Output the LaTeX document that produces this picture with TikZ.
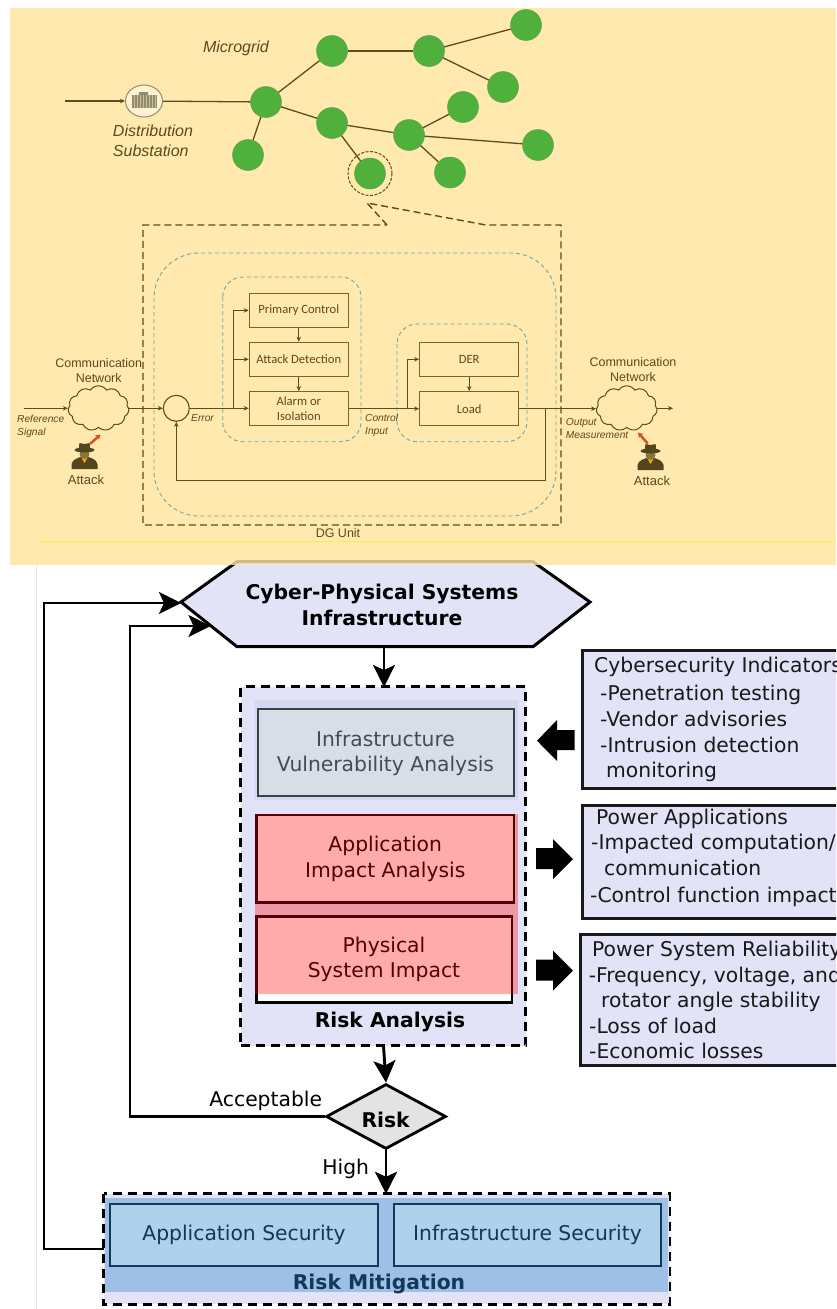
\documentclass[tikz,border=0pt]{standalone}
\usepackage{fontspec}
\setmainfont{DejaVu Sans}
\newfontfamily\liberation{Liberation Sans}
\newfontfamily\carlito{Carlito}
\usetikzlibrary{arrows.meta,shapes.geometric,shapes.symbols,calc}
\definecolor{bgy}{HTML}{FFE9AE}
\definecolor{ol}{HTML}{5E4C1C}
\definecolor{olbox}{HTML}{7A6428}
\definecolor{txty}{HTML}{5A4A20}
\definecolor{grn}{HTML}{4FB03C}
\definecolor{dashb}{HTML}{6FA6A6}
\definecolor{lav}{HTML}{E3E3F8}
\definecolor{lav2}{HTML}{D5D9F0}
\definecolor{ovb}{HTML}{A0BFE6}
\definecolor{secf}{HTML}{AED1EC}
\definecolor{secd}{HTML}{0F3A5C}
\definecolor{sect}{HTML}{13375A}
\definecolor{infraf}{HTML}{D8DEE6}
\definecolor{infrad}{HTML}{3A3F48}
\definecolor{infrat}{HTML}{444B55}
\definecolor{atk}{HTML}{54461C}
\definecolor{atkh}{HTML}{8A7440}
\definecolor{redarr}{HTML}{D2501E}
\tikzset{
  gnode/.style={circle,fill=grn,draw=grn!80!gray,line width=.5pt,minimum size=31pt,inner sep=0},
  gline/.style={draw=ol,line width=1.3pt},
  ubox/.style={draw=olbox,line width=1.2pt,minimum width=99pt,minimum height=34pt,inner sep=0,align=center,text=txty,font=\carlito\fontsize{12.6}{15}\selectfont},
  uarrow/.style={draw=ol,line width=1.1pt,-{Stealth[length=5pt,width=4.5pt]}},
  bluedash/.style={draw=dashb,line width=.9pt,dash pattern=on 4pt off 3pt},
  browndash/.style={draw=ol,line width=1.4pt,dash pattern=on 7pt off 4pt},
  ulabel/.style={text=txty,font=\liberation\fontsize{12.5}{15}\selectfont,inner sep=0,align=center},
  ilabel/.style={text=txty,font=\liberation\itshape\fontsize{10.2}{13}\selectfont,inner sep=0,align=left,anchor=west},
  mlabel/.style={text=txty,font=\liberation\itshape\fontsize{16}{20}\selectfont,inner sep=0,align=left},
  cloudn/.style={cloud,cloud puffs=11,cloud puff arc=110,aspect=1.35,draw=ol,line width=1pt,minimum width=61pt,minimum height=45pt,inner sep=0},
  redarrow/.style={draw=redarr,line width=2.4pt,-{Stealth[length=5pt,width=6pt]}},
  thick3/.style={draw=black,line width=2.9pt},
  bigarrow/.style={thick3,-{Stealth[length=22pt,width=22pt,inset=5pt]}},
  dashbox/.style={draw=black,line width=2.8pt,dash pattern=on 9pt off 6pt},
  ltext/.style={font=\fontsize{20.3}{25.5}\selectfont,inner sep=0,align=center},
  btext/.style={font=\bfseries\fontsize{20.3}{25.5}\selectfont,inner sep=0,align=center},
  rline/.style={font=\fontsize{20.3}{25}\selectfont,inner sep=0,anchor=west,text height=15pt,text depth=4.5pt,text=black!90},
  rbox/.style={draw=black!90,line width=3pt,fill=lav},
  blockarr/.style={fill=black,draw=none},
  attacker/.pic={
    \fill[atk] (-13,0) -- (-13,-5) .. controls (-12,-10) and (-6,-11) .. (-4,-12) -- (4,-12) .. controls (6,-11) and (12,-10) .. (13,-5) -- (13,0) -- cycle;
    \fill[orange!70!yellow] (-4,-13) -- (4,-13) -- (0,-6) -- cycle;
    \fill[atkh] (0,-15) circle (5);
    \fill[atk] (0,-19) ellipse (10 and 2.5);
    \fill[atk] (-6,-19) -- (-5,-26) -- (0,-25) -- (5,-26) -- (6,-19) -- cycle;
  }
}
\begin{document}
\begin{tikzpicture}[x=1pt,y=-1pt]
\useasboundingbox (0,0) rectangle (836,1309);
\fill[white] (0,0) rectangle (836,1309);
\clip (0,0) rectangle (836,1309);
% ---------- backgrounds
\fill[bgy] (10,8) rectangle (836,565);
\draw[black!10,line width=.8pt] (36,565) -- (36,1309);
\draw[yellow!60!bgy,line width=.6pt] (36,541) -- (836,541);

% ---------- microgrid
\node[draw=gray!80!olive,fill=bgy!60!white,line width=1pt,ellipse,minimum width=37pt,minimum height=32pt,inner sep=0] (sub) at (144,101) {};
\fill[gray!75!olive] (132,95) rectangle (157,108);
\fill[gray!75!olive] (139,92) rectangle (148,95);
\foreach \sx in {134,137,...,155}{\draw[bgy!60!gray,line width=.3pt] (\sx,95) -- (\sx,108);}
\coordinate (in0) at (65,101);
\node[gnode] (A) at (266,102) {};
\node[gnode] (B) at (332,51) {};
\node[gnode] (C) at (429,51) {};
\node[gnode] (D) at (526,25) {};
\node[gnode] (E) at (503,87) {};
\node[gnode] (F) at (332,123) {};
\node[gnode] (G) at (409,135) {};
\node[gnode] (H) at (463,107) {};
\node[gnode] (I) at (538,145) {};
\node[gnode] (J) at (450,172.5) {};
\node[gnode] (K) at (370,173.5) {};
\node[gnode] (L) at (248,155) {};
\node[draw=ol,line width=1pt,dash pattern=on 3pt off 1.5pt,circle,minimum size=44pt,inner sep=0] (Kring) at (370,173.5) {};
\draw[uarrow] (in0) -- (sub);
\draw[gline] (sub) -- (A);
\draw[gline] (A) -- (B);
\draw[gline] (B) -- (C);
\draw[gline] (C) -- (D);
\draw[gline] (C) -- (E);
\draw[gline] (A) -- (F);
\draw[gline] (A) -- (L);
\draw[gline] (F) -- (G);
\draw[gline] (F) -- (K);
\draw[gline] (G) -- (H);
\draw[gline] (G) -- (I);
\draw[gline] (G) -- (J);
\node[mlabel] (mg) at (236,48) {Microgrid};
\node[mlabel] (ds) at (153,141) {Distribution\\Substation};

% ---------- DG unit
\draw[browndash] (387,225) -- (367,203) -- (486,225) -- (561,225) -- (561,525) -- (143,525) -- (143,225) -- cycle;
\node[draw=none,inner sep=0,text=txty,font=\liberation\fontsize{12.5}{15}\selectfont] (dg) at (338,533) {DG Unit};
\draw[bluedash,rounded corners=45pt] (154,253) rectangle (556,516);
\draw[bluedash,rounded corners=20pt] (222.7,277) rectangle (361,441.7);
\draw[bluedash,rounded corners=20pt] (397,324) rectangle (527,441.7);
\node[ubox] (pc) at (298.8,310.4) {Primary Control};
\node[ubox] (ad) at (298.8,359.3) {Attack Detection};
\node[ubox] (al) at (298.8,408.7) {Alarm or\\Isolation};
\node[ubox] (der) at (469.2,359.3) {DER};
\node[ubox] (load) at (469.2,408.7) {Load};
\node[draw=ol,line width=1.1pt,circle,minimum size=26pt,inner sep=0] (sum) at (176.3,408.3) {};
\node[cloudn] (c1) at (98.5,408.3) {};
\node[cloudn] (c2) at (626.7,408.3) {};
\coordinate (ref) at (24,408.3);
\coordinate (outp) at (673,408.3);
\draw[uarrow] (ref) -- (c1.west |- ref);
\draw[uarrow] (c1.east |- sum) -- (sum.west);
\draw[uarrow] (sum.east) -- (sum.east -| al.west);
\coordinate (b1) at (233.5,408.5);
\coordinate (b1m) at (233.5,359.3);
\draw[uarrow] (b1) |- (pc.west);
\draw[uarrow] (b1m) -- (ad.west);
\draw[uarrow] (pc) -- (ad);
\draw[uarrow] (ad) -- (al);
\draw[uarrow] (al.east) -- (load.west);
\coordinate (b2) at (407.5,408.7);
\draw[uarrow] (b2) |- (der.west);
\draw[uarrow] (der) -- (load);
\draw[uarrow] (load.east) -- (c2.west |- load.east);
\draw[uarrow] (c2.east |- outp) -- (outp);
\coordinate (fb) at (545.7,408.7);
\coordinate (fb2) at (545.7,480.7);
\draw[uarrow] (fb) -- (fb2) -| (sum.south);

\node[ulabel] (cn1) at (98.7,370.5) {Communication\\Network};
\node[ulabel] (cn2) at (633,369.5) {Communication\\Network};
\node[ilabel] (rs) at (17,426.5) {Reference\\Signal};
\node[ilabel] (er) at (191,418) {Error};
\node[ilabel] (ci) at (365,425.5) {Control\\Input};
\node[ilabel] (om) at (565.7,428.5) {Output\\Measurement};
\node[ulabel,font=\liberation\fontsize{13}{15}\selectfont] (at1) at (86,480) {Attack};
\node[ulabel,font=\liberation\fontsize{13}{15}\selectfont] (at2) at (652,481) {Attack};
\pic at (84.5,469) {attacker};
\pic at (650.5,470) {attacker};
\coordinate (ra1) at (90,444);
\coordinate (rb1) at (100.5,434.5);
\coordinate (ra2) at (647.7,443.5);
\coordinate (rb2) at (638,432.5);
\draw[redarrow] (ra1) -- (rb1);
\draw[redarrow] (ra2) -- (rb2);

% ---------- lower flow chart
\path[fill=lav,draw=black,line width=3pt,line join=miter] (181,602) -- (237,561.7) -- (533,561.7) -- (590,602) -- (533,646.7) -- (237,646.7) -- cycle;
\fill[bgy,opacity=.8] (150,556) rectangle (640,565);
\node[btext] (hex) at (382,604.8) {Cyber-Physical Systems\\Infrastructure};

% risk analysis
\node[dashbox,fill=lav,minimum width=285pt,minimum height=359pt,inner sep=0] (ra) at (383,866.2) {};
\fill[lav2] (255,700) rectangle (518,800);
\node[draw=infrad,fill=infraf,line width=2.8pt,minimum width=256pt,minimum height=87pt,inner sep=0,text=infrat,ltext] (iva) at (386,752.5) {};
\node[ltext,text=infrat] (ivat) at (385.5,753.5) {Infrastructure\\Vulnerability Analysis};
\node[draw=black,fill=white,line width=2.8pt,minimum width=257.5pt,minimum height=87.7pt,inner sep=0,ltext] (aia) at (385.2,858.9) {Application\\Impact Analysis};
\node[draw=black,fill=white,line width=2.8pt,minimum width=255.5pt,minimum height=86pt,inner sep=0,ltext] (psi) at (384.2,959.7) {};
\node[ltext] (psit) at (384,959.5) {Physical\\System Impact};
\fill[red,fill opacity=.33] (255,813.5) rectangle (517.5,994);
\node[btext] (ral) at (390,1021.5) {Risk Analysis};

\coordinate (h1) at (384,648);
\coordinate (h2) at (384,687);
\draw[bigarrow] (h1) -- (h2);
% right boxes
\draw[rbox] (582.6,650) rectangle (850,788);
\node[rline] (c1l) at (594,667.5) {Cybersecurity Indicators};
\node[rline] (c2l) at (600,695) {-Penetration testing};
\node[rline] (c3l) at (600,721.5) {-Vendor advisories};
\node[rline] (c4l) at (600,747) {-Intrusion detection};
\node[rline] (c5l) at (606,772.5) {monitoring};
\draw[rbox] (582,805) rectangle (850,918);
\node[rline] (p1l) at (596,819) {Power Applications};
\node[rline] (p2l) at (591,844) {-Impacted computation/};
\node[rline] (p3l) at (604,870) {communication};
\node[rline] (p4l) at (590,897) {-Control function impact};
\draw[rbox] (580.7,934) rectangle (850,1065);
\node[rline] (s1l) at (592,951) {Power System Reliability};
\node[rline] (s2l) at (588.6,977) {-Frequency, voltage, and};
\node[rline] (s3l) at (601,1002.7) {rotator angle stability};
\node[rline] (s4l) at (589,1028) {-Loss of load};
\node[rline] (s5l) at (589,1053.7) {-Economic losses};
% block arrows
\fill[blockarr] (574.6,730) -- (557,730) -- (557,720) -- (537,740.7) -- (557,761) -- (557,750) -- (574.6,750) -- cycle;
\fill[blockarr] (536,848) -- (553,848) -- (553,839) -- (573,859) -- (553,879) -- (553,869) -- (536,869) -- cycle;
\fill[blockarr] (536,959.5) -- (553,959.5) -- (553,950.5) -- (573,970.5) -- (553,990.5) -- (553,980.5) -- (536,980.5) -- cycle;

% risk diamond
\node[diamond,draw=black,fill=black!11,line width=2.8pt,minimum width=120pt,minimum height=65pt,inner sep=0] (risk) at (386,1116.5) {};
\node[font=\bfseries\fontsize{20.3}{24}\selectfont,inner sep=0] (riskt) at (385.6,1119.5) {Risk};
\node[font=\fontsize{20.3}{24}\selectfont,inner sep=0] (acc) at (265.7,1100.7) {Acceptable};
\node[font=\fontsize{20.3}{24}\selectfont,inner sep=0] (hi) at (345.7,1169) {High};
\coordinate (ra3) at (383.5,1046);
\draw[bigarrow] (ra3) -- (risk.north);

% risk mitigation
\node[draw=none,fill=lav,minimum width=566pt,minimum height=110pt,inner sep=0] (rm) at (386.7,1249) {};
\fill[ovb] (105,1198) rectangle (668,1291.7);
\draw[dashbox] (rm.north west) rectangle (rm.south east);
\node[draw=secd,fill=secf,line width=2.8pt,minimum width=268pt,minimum height=62pt,inner sep=0,text=sect,ltext] (as) at (244,1235) {Application Security};
\node[draw=secd,fill=secf,line width=2.8pt,minimum width=267pt,minimum height=62pt,inner sep=0,text=sect,ltext] (is) at (527.5,1235) {Infrastructure Security};
\node[btext,text=secd] (rml) at (379,1283.5) {Risk Mitigation};
\draw[bigarrow] (risk.south) -- (rm.north -| risk.south);

% feedback
\coordinate (hexl1) at (181,603);
\coordinate (hexl2) at (210.5,626);
\draw[bigarrow] (rm.west) -- (44,1249) -- (44,603) -- (hexl1);
\draw[bigarrow] (risk.west) -- (130,1116.5) -- (130,626) -- (hexl2);
\end{tikzpicture}
\end{document}
